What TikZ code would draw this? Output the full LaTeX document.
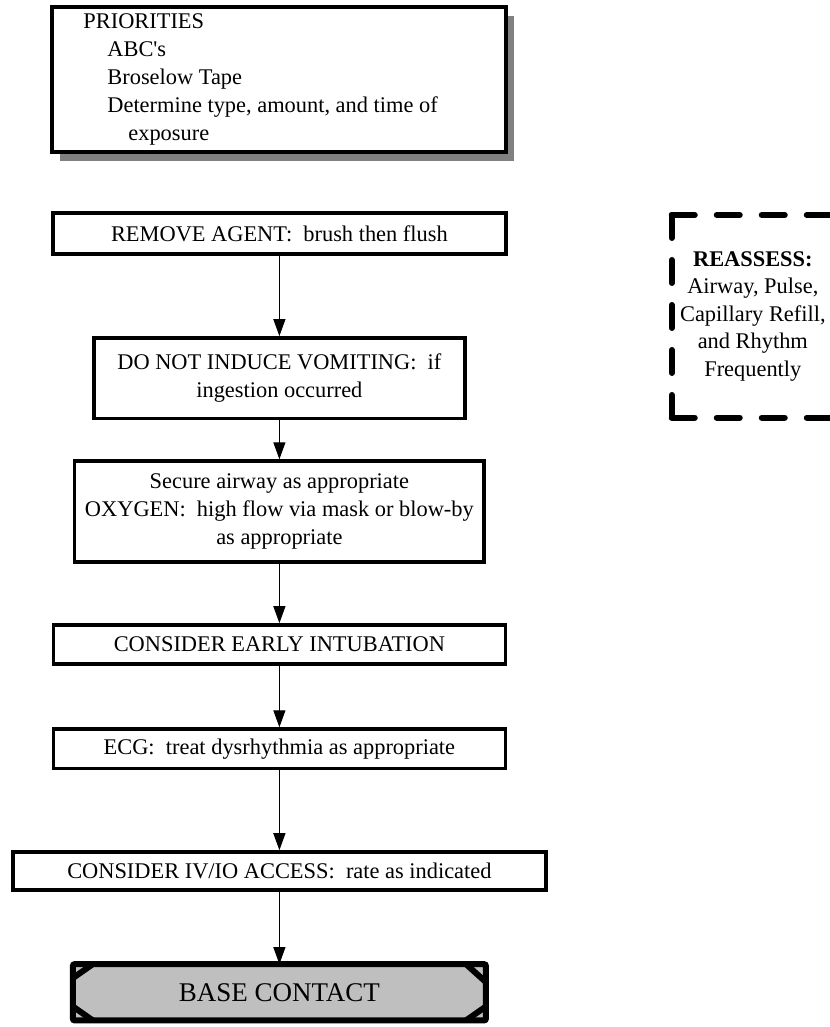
\documentclass[tikz,border=0pt]{standalone}
\usepackage{fontspec}
\setmainfont{Liberation Serif}
\usetikzlibrary{arrows.meta, positioning, shadows}
\colorlet{basefill}{black!25}
\colorlet{shadowgray}{black!50}

\begin{document}
\begin{tikzpicture}[
      box/.style      = {draw, line width=1.8pt, fill=white, align=center,
                         font=\fontsize{11.2}{14}\selectfont, inner sep=2pt},
      prio box/.style = {box, line width=2pt, align=flush left, text width=196pt,
                         inner xsep=15.5pt,
                         drop shadow={shadow xshift=4pt, shadow yshift=-4.5pt,
                                      fill=shadowgray, opacity=1}},
      note box/.style = {outer sep=0pt, align=center,
                         font=\fontsize{11.2}{13.75}\selectfont},
      dash line/.style = {line width=3pt, line cap=round,
                          dash pattern=on 11.5pt off 11pt},
      base box/.style = {draw, line width=3pt, fill=basefill, rounded corners=1pt,
                         outer sep=0pt, font=\fontsize{13.5}{16}\selectfont},
      chamfer/.style  = {line width=3pt},
      arr/.style      = {-{Triangle[length=8.5pt, width=6pt]}, line width=0.6pt}
    ]

    \useasboundingbox (0,0) rectangle (14.586,18.048);

    \node[prio box, minimum height=2.55cm] (prio) at (4.91, 16.65)
      {PRIORITIES\\
       \hspace*{12pt}ABC\textquotesingle s\\
       \hspace*{12pt}Broselow Tape\\
       \hspace*{12pt}Determine type, amount, and time of\\
       \hspace*{22.5pt}exposure};

    \node[box, minimum width=7.96cm, minimum height=0.72cm] (remove) at (4.91, 13.94)
      {REMOVE AGENT:\ \ brush then flush};
    \node[box, minimum width=6.52cm, minimum height=1.42cm] (noinduce) at (4.91, 11.40)
      {DO NOT INDUCE VOMITING:\ \ if\\ ingestion occurred};
    \node[box, minimum width=7.20cm, minimum height=1.77cm] (airway) at (4.91, 9.06)
      {Secure airway as appropriate\\
       OXYGEN:\ \ high flow via mask or blow-by\\
       as appropriate};
    \node[box, minimum width=7.94cm, minimum height=0.69cm] (intub) at (4.91, 6.72)
      {CONSIDER EARLY INTUBATION};
    \node[box, minimum width=7.94cm, minimum height=0.69cm] (ecg) at (4.91, 4.89)
      {ECG:\ \ treat dysrhythmia as appropriate};
    \node[box, minimum width=9.36cm, minimum height=0.67cm] (ivio) at (4.91, 2.74)
      {CONSIDER IV/IO ACCESS:\ \ rate as indicated};
    \node[base box, minimum width=7.26cm, minimum height=0.99cm] (base) at (4.91, 0.61)
      {BASE CONTACT};

    % beveled corners of the base box
    \draw[chamfer] ([xshift=10pt]base.north west) -- ([yshift=-7pt]base.north west);
    \draw[chamfer] ([xshift=10pt]base.south west) -- ([yshift=7pt]base.south west);
    \draw[chamfer] ([xshift=-10pt]base.north east) -- ([yshift=-9pt]base.north east);
    \draw[chamfer] ([xshift=-10pt]base.south east) -- ([yshift=7pt]base.south east);

    \node[note box, minimum width=2.85cm, minimum height=3.56cm] (reassess) at (13.23, 12.49)
      {\textbf{REASSESS:}\\ Airway, Pulse,\\ Capillary Refill,\\ and Rhythm\\ Frequently};
    % dashed frame, each side starting at a corner
    \draw[dash line] (reassess.north west) -- (reassess.north east);
    \draw[dash line] (reassess.north west) -- (reassess.south west);
    \draw[dash line] (reassess.south west) -- (reassess.south east);
    \draw[dash line] (reassess.north east) -- (reassess.south east);

    \draw[arr] (remove)   -- (noinduce);
    \draw[arr] (noinduce) -- (airway);
    \draw[arr] (airway)   -- (intub);
    \draw[arr] (intub)    -- (ecg);
    \draw[arr] (ecg)      -- (ivio);
    \draw[arr] (ivio)     -- (base);
  \end{tikzpicture}
\end{document}
